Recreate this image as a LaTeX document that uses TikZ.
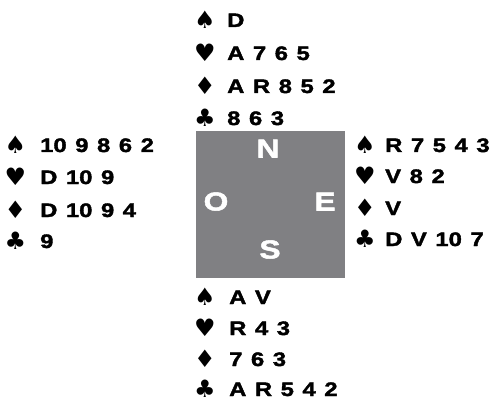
\documentclass[tikz,border=0pt]{standalone}
\usepackage{fontspec}
\setmainfont{Liberation Sans}
\newfontfamily\cardfont{Liberation Sans}[FakeStretch=1.22,FakeBold=2,WordSpace=1.3]
\newfontfamily\suitfont{DejaVu Sans}
\definecolor{boxgray}{RGB}{128,128,131}
\tikzset{
  cardtext/.style={anchor=west, font=\cardfont\bfseries\fontsize{19.5}{20}\selectfont, inner sep=0pt, text height=14pt, text depth=0pt},
  suitsym/.style={font=\suitfont\fontsize{24}{26}\selectfont, inner sep=0pt},
  seat/.style={text=white, font=\cardfont\bfseries\fontsize{26}{28}\selectfont, inner sep=0pt, text height=19pt, text depth=0pt},
  tablebox/.style={fill=boxgray, minimum width=149pt, minimum height=147pt, inner sep=0pt}
}
\begin{document}
\begin{tikzpicture}[x=1pt,y=-1pt]
\useasboundingbox (0,0) rectangle (494,403);
\node[tablebox] (table) at (270.5,204.5) {};
\node[seat] (N) at (268,148) {N};
\node[seat] (O) at (216,201) {O};
\node[seat] (E) at (325,201) {E};
\node[seat] (S) at (270,249) {S};
% North
\node[suitsym] (ns) at (205,20) {♠};  \node[cardtext] (nst) at (227,20) {D};
\node[suitsym] (nh) at (205,53) {♥};  \node[cardtext] (nht) at (227,53) {A 7 6 5};
\node[suitsym] (nd) at (205,86) {♦};  \node[cardtext] (ndt) at (227,86) {A R 8 5 2};
\node[suitsym] (nc) at (205,118) {♣}; \node[cardtext] (nct) at (227,118) {8 6 3};
% West
\node[suitsym] (ws) at (15.5,145) {♠}; \node[cardtext] (wst) at (40,145) {10 9 8 6 2};
\node[suitsym] (wh) at (15.5,177) {♥}; \node[cardtext] (wht) at (40,177) {D 10 9};
\node[suitsym] (wd) at (15.5,210) {♦}; \node[cardtext] (wdt) at (40,210) {D 10 9 4};
\node[suitsym] (wc) at (15.5,241) {♣}; \node[cardtext] (wct) at (40,241) {9};
% East
\node[suitsym] (es) at (365,145) {♠}; \node[cardtext] (est) at (385,145) {R 7 5 4 3};
\node[suitsym] (eh) at (365,176) {♥}; \node[cardtext] (eht) at (385,176) {V 8 2};
\node[suitsym] (ed) at (365,208) {♦}; \node[cardtext] (edt) at (385,208) {V};
\node[suitsym] (ec) at (365,239) {♣}; \node[cardtext] (ect) at (385,239) {D V 10 7};
% South
\node[suitsym] (ss) at (205,297) {♠}; \node[cardtext] (sst) at (229,297) {A V};
\node[suitsym] (sh) at (205,328) {♥}; \node[cardtext] (sht) at (229,328) {R 4 3};
\node[suitsym] (sd) at (205,359) {♦}; \node[cardtext] (sdt) at (229,359) {7 6 3};
\node[suitsym] (sc) at (205,389) {♣}; \node[cardtext] (sct) at (229,389) {A R 5 4 2};
\end{tikzpicture}
\end{document}
